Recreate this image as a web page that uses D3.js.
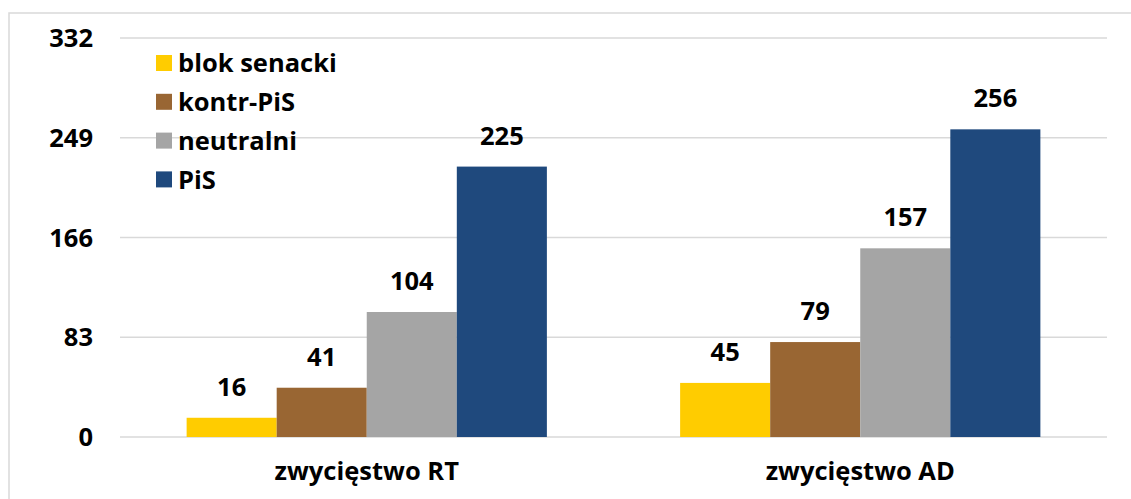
<!DOCTYPE html>
<html>
<head>
<meta charset="utf-8">
<script src="https://cdn.jsdelivr.net/npm/d3@7"></script>
<style>
  body { margin: 0; background: #fff; }
  svg text { font-family: "Open Sans", "Noto Sans", sans-serif; font-weight: 700; fill: #000; }
</style>
</head>
<body>
<div id="chart"></div>
<script>
// data
var categories = ['zwycięstwo RT', 'zwycięstwo AD'];
var seriesNames = ['blok senacki', 'kontr-PiS', 'neutralni', 'PiS'];
var seriesColors = ['#ffcc00', '#996633', '#a5a5a5', '#1f497d'];
var valuesRT = [16, 41, 104, 225];
var valuesAD = [45, 79, 157, 256];
var yTicks = [0, 83, 166, 249, 332];

var width = 1131, height = 499;
var margins = { top: 38, right: 24, bottom: 62, left: 120 };
var fontSize = '25.5px';

var svg = d3.select('#chart').append('svg')
    .attr('width', width)
    .attr('height', height);

// outer border
svg.append('rect')
    .attr('x', 9).attr('y', 13)
    .attr('width', width + 10).attr('height', height)
    .attr('fill', 'none')
    .attr('stroke', '#d9d9d9')
    .attr('stroke-width', 1.5);

var x0 = d3.scaleBand()
    .domain(categories)
    .range([margins.left, width - margins.right])
    .paddingInner(0.27)
    .paddingOuter(0.135);

var x1 = d3.scaleBand()
    .domain(seriesNames)
    .range([0, x0.bandwidth()]);

var y = d3.scaleLinear()
    .domain([0, 332])
    .range([height - margins.bottom, margins.top]);

// gridlines
svg.append('g')
    .selectAll('line')
    .data(yTicks)
    .enter().append('line')
    .attr('x1', margins.left)
    .attr('x2', width - margins.right)
    .attr('y1', function(d) { return y(d); })
    .attr('y2', function(d) { return y(d); })
    .attr('stroke', '#d9d9d9')
    .attr('stroke-width', 1.5);

// y labels
svg.append('g')
    .selectAll('text')
    .data(yTicks)
    .enter().append('text')
    .attr('x', 93)
    .attr('y', function(d) { return y(d); })
    .attr('dy', '0.36em')
    .attr('text-anchor', 'end')
    .style('font-size', fontSize)
    .text(function(d) { return d; });

var table = categories.map(function(c, i) {
    var vals = i === 0 ? valuesRT : valuesAD;
    return { cat: c, values: seriesNames.map(function(s, j) { return { name: s, value: vals[j], color: seriesColors[j] }; }) };
});

var groups = svg.append('g')
    .selectAll('g')
    .data(table)
    .enter().append('g')
    .attr('transform', function(d) { return 'translate(' + x0(d.cat) + ',0)'; });

groups.selectAll('rect')
    .data(function(d) { return d.values; })
    .enter().append('rect')
    .attr('x', function(d) { return x1(d.name); })
    .attr('width', x1.bandwidth())
    .attr('y', function(d) { return y(d.value); })
    .attr('height', function(d) { return y(0) - y(d.value); })
    .attr('fill', function(d) { return d.color; });

groups.selectAll('text')
    .data(function(d) { return d.values; })
    .enter().append('text')
    .attr('x', function(d) { return x1(d.name) + x1.bandwidth() / 2; })
    .attr('y', function(d) { return y(d.value) - 22; })
    .attr('text-anchor', 'middle')
    .style('font-size', fontSize)
    .text(function(d) { return d.value; });

// category labels
svg.append('g')
    .selectAll('text')
    .data(categories)
    .enter().append('text')
    .attr('x', function(d) { return x0(d) + x0.bandwidth() / 2; })
    .attr('y', 480)
    .attr('text-anchor', 'middle')
    .style('font-size', fontSize)
    .text(function(d) { return d; });

// legend
var legend = svg.append('g')
    .selectAll('g')
    .data(seriesNames)
    .enter().append('g')
    .attr('transform', function(d, i) { return 'translate(156,' + (63 + i * 38.8) + ')'; });

legend.append('rect')
    .attr('x', 0).attr('y', -8)
    .attr('width', 16).attr('height', 16)
    .attr('fill', function(d, i) { return seriesColors[i]; });

legend.append('text')
    .attr('x', 22)
    .attr('dy', '0.36em')
    .style('font-size', fontSize)
    .text(function(d) { return d; });
</script>
</body>
</html>
